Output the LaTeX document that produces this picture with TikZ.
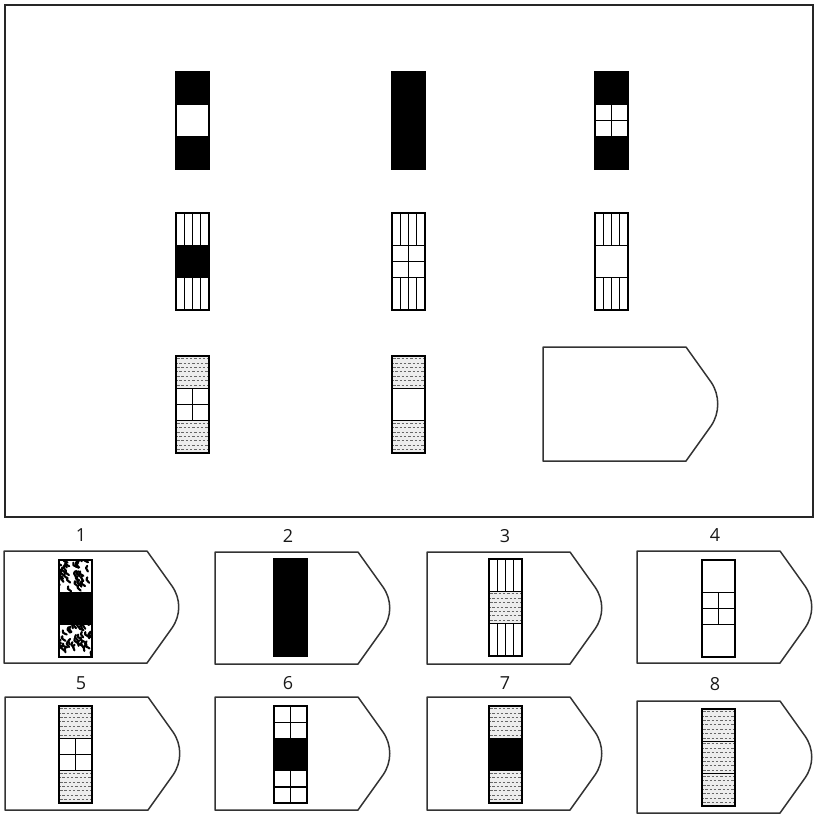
\documentclass[tikz,border=0pt]{standalone}
\usepackage{fontspec}
\setmainfont{Open Sans}
\tikzset{
 frame/.style={draw=black!85, line width=1.3pt},
 tagshape/.style={draw=black!80, line width=1.5pt, line join=round},
 boxline/.style={draw=black, line width=1.5pt},
 segline/.style={draw=black, line width=1.3pt},
 dashrow/.style={draw=black!60, line width=0.7pt, dash pattern=on 2.5pt off 1.8pt},
 lbl/.style={font=\fontsize{18}{18}\selectfont, inner sep=0pt, text=black!90}
}
\newcommand\pblack[4]{\fill[black] (#1,#2) rectangle (#3,#4);}
\newcommand\pwhite[4]{}
\newcommand\pcross[4]{\draw[segline] ({(#1+#3)/2},#2) -- ({(#1+#3)/2},#4); \draw[segline] (#1,{(#2+#4)/2}) -- (#3,{(#2+#4)/2});}
\newcommand\plines[4]{\foreach \k in {1,2,3}{\draw[segline] ({#1+\k*(#3-#1)/4},#2) -- ({#1+\k*(#3-#1)/4},#4);}}
\newcommand\pdots[4]{\fill[black!7] (#1,#2) rectangle (#3,#4);
 \begin{scope}\clip (#1,#2) rectangle (#3,#4);
 \foreach \r in {0,2,4,6}{\draw[dashrow] ({#1+1},{#2+2.5+\r*4.4}) -- (#3,{#2+2.5+\r*4.4});}
 \foreach \r in {1,3,5}{\draw[dashrow] ({#1-1},{#2+2.5+\r*4.4}) -- (#3,{#2+2.5+\r*4.4});}
 \end{scope}}
\newcommand\pcamo[4]{\begin{scope}\clip (#1,#2) rectangle (#3,#4);
 \foreach \i in {1,...,40}{
  \pgfmathsetmacro\cx{#1+rnd*(#3-#1)}
  \pgfmathsetmacro\cy{#2+rnd*(#4-#2)}
  \pgfmathsetmacro\ca{200+rnd*60}
  \draw[black, line width=2.1pt, line cap=round, line join=round] (\cx,\cy) -- ++(\ca:4) -- ++(\ca+60:2.5);
 }
 \end{scope}}
\newcommand\stack[5]{%
 \pgfmathsetmacro\sxa{#1}\pgfmathsetmacro\sxb{#1+33}%
 \pgfmathsetmacro\sya{#2}\pgfmathsetmacro\syb{#2+32.3}\pgfmathsetmacro\syc{#2+64.7}\pgfmathsetmacro\syd{#2+97}%
 \csname p#3\endcsname{\sxa}{\sya}{\sxb}{\syb}
 \csname p#4\endcsname{\sxa}{\syb}{\sxb}{\syc}
 \csname p#5\endcsname{\sxa}{\syc}{\sxb}{\syd}
 \draw[segline] (\sxa,\syb) -- (\sxb,\syb) (\sxa,\syc) -- (\sxb,\syc);
 \draw[boxline] (\sxa,\sya) rectangle (\sxb,\syd);
}
\newcommand\pshape[3]{%
 \draw[tagshape] (#1,#2) -- ({#1+143},#2) -- ({#1+168},{#2+35}) .. controls ({#1+177},{#2+48}) and ({#1+177},{#2+#3-48}) .. ({#1+168},{#2+#3-35}) -- ({#1+143},{#2+#3}) -- (#1,{#2+#3}) -- cycle;
}
\begin{document}
\begin{tikzpicture}[x=1pt,y=-1pt]
\pgfmathsetseed{11}
\useasboundingbox (0,0) rectangle (819,820);
\draw[frame] (5,5) rectangle (813,517);
% matrix
\stack{176}{72}{black}{white}{black}
\stack{392}{72}{black}{black}{black}
\stack{595}{72}{black}{cross}{black}
\stack{176}{213}{lines}{black}{lines}
\stack{392}{213}{lines}{cross}{lines}
\stack{595}{213}{lines}{white}{lines}
\stack{176}{356}{dots}{cross}{dots}
\stack{392}{356}{dots}{white}{dots}
\pshape{543}{347}{114}
% options
\pshape{4}{551}{112}
\pshape{215}{552}{112}
\pshape{427}{552}{112}
\pshape{637}{551}{112}
\pshape{5}{697}{113}
\pshape{215}{697}{113}
\pshape{427}{697}{113}
\pshape{637}{701}{112}
\stack{59}{560}{camo}{black}{camo}
\stack{274}{559}{black}{black}{black}
\stack{489}{559}{lines}{dots}{lines}
\stack{702}{560}{white}{cross}{white}
\stack{59}{706}{dots}{cross}{dots}
\stack{274}{706}{cross}{black}{cross}
\stack{489}{706}{dots}{black}{dots}
\stack{702}{709}{dots}{dots}{dots}
\node[lbl] (l1) at (81,535) {1};
\node[lbl] (l2) at (288,536) {2};
\node[lbl] (l3) at (505,536) {3};
\node[lbl] (l4) at (715,535) {4};
\node[lbl] (l5) at (81,683) {5};
\node[lbl] (l6) at (288,683) {6};
\node[lbl] (l7) at (505,683) {7};
\node[lbl] (l8) at (715,684) {8};
\end{tikzpicture}
\end{document}
